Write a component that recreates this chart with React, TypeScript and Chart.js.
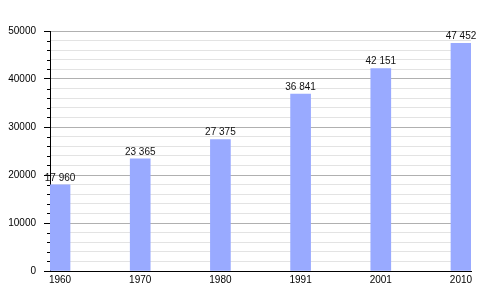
import React, { useEffect, useRef } from "react";
import { Chart, registerables } from "chart.js";

Chart.register(...registerables);

const years = ["1960", "1970", "1980", "1991", "2001", "2010"];
const population = [17960, 23365, 27375, 36841, 42151, 47452];
const yMax = 50000;
const majorStep = 10000;
const minorStep = 2000;

const FONT = "'Liberation Sans', Arial, sans-serif";

function fmt(v: number): string {
  return String(v).replace(/\B(?=(\d{3})+(?!\d))/g, " ");
}

const valueLabels = {
  id: "valueLabels",
  afterDatasetsDraw(chart: any) {
    const ctx = chart.ctx;
    const meta = chart.getDatasetMeta(0);
    ctx.save();
    ctx.font = `10px ${FONT}`;
    ctx.fillStyle = "#111";
    ctx.textAlign = "center";
    ctx.textBaseline = "bottom";
    meta.data.forEach((el: any, i: number) => {
      ctx.fillText(fmt(population[i]), el.x, el.y - 2);
    });
    ctx.restore();
  },
};

const minorTicks = {
  id: "minorTicks",
  afterDraw(chart: any) {
    const ctx = chart.ctx;
    const y = chart.scales.y;
    ctx.save();
    ctx.strokeStyle = "#000";
    ctx.lineWidth = 1;
    for (let v = 0; v <= yMax; v += minorStep) {
      if (v % majorStep === 0) continue;
      const py = Math.round(y.getPixelForValue(v)) + 0.5;
      ctx.beginPath();
      ctx.moveTo(y.right - 3, py);
      ctx.lineTo(y.right, py);
      ctx.stroke();
    }
    ctx.restore();
  },
};

export default function App() {
  const ref = useRef<HTMLCanvasElement | null>(null);
  useEffect(() => {
    document.body.style.margin = "0";
    if (!ref.current) return;
    const chart = new Chart(ref.current, {
      type: "bar",
      data: {
        datasets: [
          {
            data: population.map((v, i) => ({ x: i, y: v })),
            backgroundColor: "rgb(153,170,255)",
            borderWidth: 0,
            barThickness: 20,
          },
        ],
      },
      options: {
        animation: false,
        responsive: false,
        maintainAspectRatio: false,
        layout: { padding: { left: 0, right: 29, top: 31, bottom: 0 } },
        plugins: { legend: { display: false }, tooltip: { enabled: false } },
        scales: {
          x: {
            type: "linear",
            offset: false,
            min: -0.125,
            max: 5.125,
            afterBuildTicks: (scale: any) => {
              scale.ticks = years.map((_, i) => ({ value: i }));
            },
            afterFit: (scale: any) => {
              scale.height = 29;
            },
            grid: { display: false, drawTicks: false },
            border: { display: true, color: "#000", width: 1 },
            ticks: {
              padding: 3,
              color: "#000",
              font: { family: FONT, size: 10 },
              autoSkip: false,
              maxRotation: 0,
              callback: (v: any) => years[Math.round(Number(v))] ?? "",
            },
          },
          y: {
            min: 0,
            max: yMax,
            afterFit: (scale: any) => {
              scale.width = 50;
            },
            grid: {
              color: (c: any) =>
                c.tick && c.tick.value % majorStep === 0 ? "#b0b0b0" : "#e3e3e3",
              tickColor: (c: any) =>
                c.tick && c.tick.value % majorStep === 0 ? "#000" : "rgba(0,0,0,0)",
              tickLength: 6,
            },
            border: { display: true, color: "#000", width: 1 },
            ticks: {
              stepSize: minorStep,
              autoSkip: false,
              padding: 8,
              color: "#000",
              font: { family: FONT, size: 10 },
              callback: (v: any) => (Number(v) % majorStep === 0 ? String(v) : ""),
            },
          },
        },
      } as any,
      plugins: [valueLabels, minorTicks],
    });
    return () => chart.destroy();
  }, []);
  return (
    <div style={{ width: 500, height: 300 }}>
      <canvas ref={ref} width={500} height={300} style={{ display: "block" }} />
    </div>
  );
}
